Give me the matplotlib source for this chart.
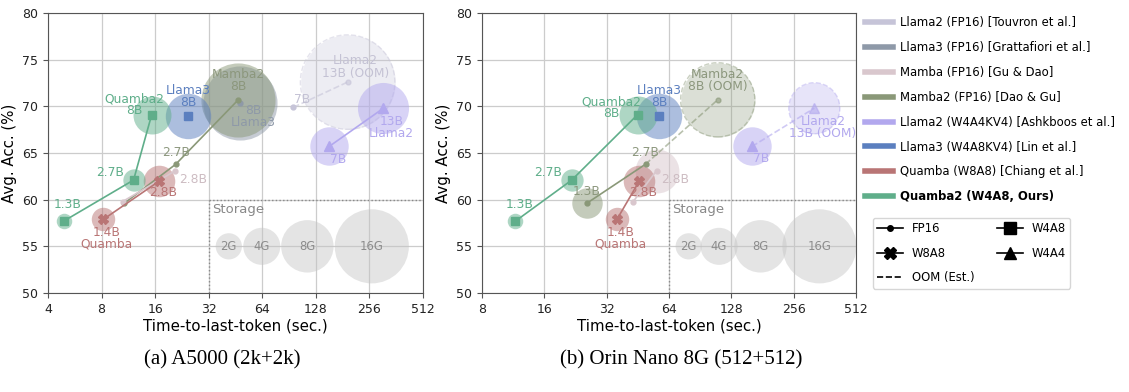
import matplotlib.pyplot as plt
from matplotlib.lines import Line2D
from matplotlib.ticker import NullLocator

# ---- accuracy (%) of each model, same on both devices ----
quamba2_acc = [57.7, 62.1, 69.1]        # 1.3B, 2.7B, 8B
quamba_acc = [57.9, 62.0]               # 1.4B, 2.8B
mamba2_acc = [59.6, 63.8, 70.7]         # 1.3B, 2.7B, 8B
mamba_acc = [59.8, 63.1]                # 1.4B, 2.8B
llama3_fp16_acc = [70.4]                # 8B
llama3_w4a8_acc = [69.0]                # 8B
llama2_fp16_acc = [69.9, 72.6]          # 7B, 13B
llama2_w4a4_acc = [65.7, 69.8]          # 7B, 13B

# ---- memory footprint (GB) -> bubble size, None = no bubble drawn ----
quamba2_gb = [0.7, 1.45, 4.2]
quamba_gb = [1.6, 2.9]
llama3_w4a8_gb = [6.0]
llama2_w4a4_gb = [4.3, 7.6]
a_mamba2_gb = [None, None, 16.0]
a_mamba_gb = [None, None]
a_llama3_fp16_gb = [16.0]
a_llama2_fp16_gb = [None, 26.0]
b_mamba2_gb = [2.7, None, 16.0]
b_mamba_gb = [None, 5.6]

# ---- time-to-last-token (sec.), (a) A5000 2k+2k ----
a_quamba2_t = [4.9, 12.1, 15.3]
a_quamba_t = [8.2, 16.9]
a_mamba2_t = [10.7, 20.9, 46.9]
a_mamba_t = [10.5, 20.8]
a_llama3_fp16_t = [48.0]
a_llama3_w4a8_t = [24.5]
a_llama2_fp16_t = [95.8, 193.0]
a_llama2_w4a4_t = [152.0, 307.0]

# ---- time-to-last-token (sec.), (b) Orin Nano 8G 512+512 ----
b_quamba2_t = [11.6, 21.7, 45.1]
b_quamba_t = [35.9, 46.0]
b_mamba2_t = [25.6, 49.3, 110.0]
b_mamba_t = [43.0, 55.7]
b_llama3_w4a8_t = [57.2]
b_llama2_w4a4_t = [161.0, 322.0]

# ---- storage reference bubbles ----
storage_gb = [2, 4, 8, 16]
storage_names = ["2G", "4G", "8G", "16G"]
a_storage_t = [41.5, 63.6, 114.7, 264.0]
b_storage_t = [79.7, 111.7, 177.0, 341.0]
storage_acc = 55

xticks_a = [4, 8, 16, 32, 64, 128, 256, 512]
xticks_b = [8, 16, 32, 64, 128, 256, 512]

# colours
c_llama2_fp16 = "#c6c4d8"
c_llama3_fp16 = "#8e99a8"
c_mamba_fp16 = "#d9c7cd"
c_mamba2_fp16 = "#8a9878"
c_llama2_w4a4 = "#b2a8ee"
c_llama3_w4a8 = "#5b7fbf"
c_quamba = "#b97575"
c_quamba2 = "#5fae8a"

S_PER_GB = 178
LABEL_FS = 8.8


def draw_series(ax, t, acc, gb, color, marker, ms, oom_last=False):
	# bubbles (memory footprint)
	for i, (x, y, g) in enumerate(zip(t, acc, gb)):
		if g is None:
			continue
		if oom_last and i == len(t) - 1:
			ax.scatter(x, y, s=g * S_PER_GB, color=color, alpha=0.3, lw=0, zorder=2)
			ax.scatter(x, y, s=g * S_PER_GB, facecolor="none", edgecolor=color,
					   alpha=0.45, lw=1.0, ls="--", zorder=2)
		else:
			ax.scatter(x, y, s=g * S_PER_GB, color=color, alpha=0.5, lw=0, zorder=2)
	# lines + markers
	if oom_last:
		ax.plot(t[:-1], acc[:-1], color=color, lw=1.2, marker=marker, ms=ms, zorder=4)
		ax.plot(t[-2:], acc[-2:], color=color, lw=1.2, ls="--", alpha=0.6, zorder=4)
		ax.plot(t[-1:], acc[-1:], color=color, ls="none", marker=marker, ms=ms, alpha=0.6, zorder=4)
	else:
		ax.plot(t, acc, color=color, lw=1.2, marker=marker, ms=ms, zorder=4)


def label(ax, x, y, text, dx, dy, color, ha="center"):
	ax.annotate(text, (x, y), xytext=(dx, dy), textcoords="offset pixels",
				ha=ha, va="center", color=color, fontsize=LABEL_FS,
				linespacing=0.92, zorder=6)


def setup_axes(ax, ticks, storage_t, storage_left):
	ax.set_xscale("log", base=2)
	ax.set_xlim(ticks[0], ticks[-1])
	ax.set_ylim(50, 80)
	ax.set_xticks(ticks)
	ax.set_xticklabels([str(v) for v in ticks])
	ax.xaxis.set_minor_locator(NullLocator())
	ax.set_yticks([50, 55, 60, 65, 70, 75, 80])
	ax.grid(True, color="#cccccc", lw=0.9, zorder=0)
	ax.set_axisbelow(True)
	ax.tick_params(labelsize=9, length=3.5, color="#555555", labelcolor="#222222")
	for sp in ax.spines.values():
		sp.set_color("#555555")
	ax.set_xlabel("Time-to-last-token (sec.)", fontsize=10.8, labelpad=2)
	ax.set_ylabel("Avg. Acc. (%)", fontsize=10.8, labelpad=4)

	# storage legend area
	ax.plot([storage_left, storage_left], [50, 60], color="#888888", lw=1.0, ls=":", zorder=1)
	ax.plot([storage_left, ticks[-1]], [60, 60], color="#888888", lw=1.0, ls=":", zorder=1)
	ax.annotate("Storage", (storage_left, 60), xytext=(3.5, -9.5), textcoords="offset pixels",
				ha="left", va="center", color="#888888", fontsize=9.5)
	ax.scatter(storage_t, [storage_acc] * len(storage_t),
			   s=[g * S_PER_GB for g in storage_gb], color="#c4c4c4", alpha=0.45, lw=0, zorder=2)
	for x, name in zip(storage_t, storage_names):
		ax.text(x, storage_acc, name, ha="center", va="center", color="#8c8c8c", fontsize=8.4, zorder=3)


fig = plt.figure(figsize=(11.29, 3.92), dpi=100)
ax_a = fig.add_axes([48 / 1129, 1 - 293 / 392, 375 / 1129, 280 / 392])
ax_b = fig.add_axes([482 / 1129, 1 - 293 / 392, 374 / 1129, 280 / 392])

# --------------------------
# (a) A5000
# --------------------------
setup_axes(ax_a, xticks_a, a_storage_t, 32)
draw_series(ax_a, a_llama2_fp16_t, llama2_fp16_acc, a_llama2_fp16_gb, c_llama2_fp16, "o", 3.5, oom_last=True)
draw_series(ax_a, a_llama3_fp16_t, llama3_fp16_acc, a_llama3_fp16_gb, c_llama3_fp16, "o", 3.5)
draw_series(ax_a, a_mamba2_t, mamba2_acc, a_mamba2_gb, c_mamba2_fp16, "o", 3.5)
draw_series(ax_a, a_mamba_t, mamba_acc, a_mamba_gb, c_mamba_fp16, "o", 3.5)
draw_series(ax_a, a_llama2_w4a4_t, llama2_w4a4_acc, llama2_w4a4_gb, c_llama2_w4a4, "^", 6.5)
draw_series(ax_a, a_llama3_w4a8_t, llama3_w4a8_acc, llama3_w4a8_gb, c_llama3_w4a8, "s", 5.5)
draw_series(ax_a, a_quamba_t, quamba_acc, quamba_gb, c_quamba, "X", 7)
draw_series(ax_a, a_quamba2_t, quamba2_acc, quamba2_gb, c_quamba2, "s", 5.5)

label(ax_a, a_quamba2_t[0], quamba2_acc[0], "1.3B", 4, 17, c_quamba2)
label(ax_a, a_quamba2_t[1], quamba2_acc[1], "2.7B", -23, 8, c_quamba2)
label(ax_a, a_quamba2_t[2], quamba2_acc[2], "Quamba2\n8B", -17, 10, c_quamba2)
label(ax_a, a_llama3_w4a8_t[0], llama3_w4a8_acc[0], "Llama3\n8B", 0, 19, c_llama3_w4a8)
label(ax_a, a_mamba2_t[1], mamba2_acc[1], "2.7B", 0, 12, "#8c977d")
label(ax_a, a_mamba2_t[2], mamba2_acc[2], "Mamba2\n8B", 0, 19, "#8c977d")
label(ax_a, a_llama3_fp16_t[0], llama3_fp16_acc[0], "8B\nLlama3", 13, -14, c_llama3_fp16)
label(ax_a, a_mamba_t[1], mamba_acc[1], "2.8B", 3.5, -9, "#cdbcc2", ha="left")
label(ax_a, a_quamba_t[0], quamba_acc[0], "1.4B\nQuamba", 3, -19, c_quamba)
label(ax_a, a_quamba_t[1], quamba_acc[1], "2.8B", 4, -12, c_quamba)
label(ax_a, a_llama2_fp16_t[0], llama2_fp16_acc[0], "7B", 9, 8, "#c4c2d4")
label(ax_a, a_llama2_fp16_t[1], llama2_fp16_acc[1], "Llama2\n13B (OOM)", 8, 15, "#c4c2d4")
label(ax_a, a_llama2_w4a4_t[0], llama2_w4a4_acc[0], "7B", 9, -13.5, c_llama2_w4a4)
label(ax_a, a_llama2_w4a4_t[1], llama2_w4a4_acc[1], "13B\nLlama2", 8, -19, c_llama2_w4a4)

# --------------------------
# (b) Orin Nano 8G
# --------------------------
setup_axes(ax_b, xticks_b, b_storage_t, 64)
draw_series(ax_b, b_mamba2_t, mamba2_acc, b_mamba2_gb, c_mamba2_fp16, "o", 3.5, oom_last=True)
draw_series(ax_b, b_mamba_t, mamba_acc, b_mamba_gb, c_mamba_fp16, "o", 3.5)
draw_series(ax_b, b_llama2_w4a4_t, llama2_w4a4_acc, llama2_w4a4_gb, c_llama2_w4a4, "^", 6.5, oom_last=True)
draw_series(ax_b, b_llama3_w4a8_t, llama3_w4a8_acc, llama3_w4a8_gb, c_llama3_w4a8, "s", 5.5)
draw_series(ax_b, b_quamba_t, quamba_acc, quamba_gb, c_quamba, "X", 7)
draw_series(ax_b, b_quamba2_t, quamba2_acc, quamba2_gb, c_quamba2, "s", 5.5)

label(ax_b, b_quamba2_t[0], quamba2_acc[0], "1.3B", 4, 17, c_quamba2)
label(ax_b, b_quamba2_t[1], quamba2_acc[1], "2.7B", -24, 8, c_quamba2)
label(ax_b, b_quamba2_t[2], quamba2_acc[2], "Quamba2\n8B", -26, 7, c_quamba2)
label(ax_b, b_llama3_w4a8_t[0], llama3_w4a8_acc[0], "Llama3\n8B", 0, 19, c_llama3_w4a8)
label(ax_b, b_mamba2_t[0], mamba2_acc[0], "1.3B", 0, 12, "#8c977d")
label(ax_b, b_mamba2_t[1], mamba2_acc[1], "2.7B", 0, 12, "#8c977d")
label(ax_b, b_mamba2_t[2], mamba2_acc[2], "Mamba2\n8B (OOM)", 0, 19, "#8c977d")
label(ax_b, b_mamba_t[1], mamba_acc[1], "2.8B", 4.3, -9, "#cdbcc2", ha="left")
label(ax_b, b_quamba_t[0], quamba_acc[0], "1.4B\nQuamba", 3.7, -19, c_quamba)
label(ax_b, b_quamba_t[1], quamba_acc[1], "2.8B", 4, -12, c_quamba)
label(ax_b, b_llama2_w4a4_t[0], llama2_w4a4_acc[0], "7B", 9, -12.5, c_llama2_w4a4)
label(ax_b, b_llama2_w4a4_t[1], llama2_w4a4_acc[1], "Llama2\n13B (OOM)", 8.5, -19, c_llama2_w4a4)

# --------------------------
# legends
# --------------------------
model_colors = [c_llama2_fp16, c_llama3_fp16, c_mamba_fp16, c_mamba2_fp16,
				c_llama2_w4a4, c_llama3_w4a8, c_quamba, c_quamba2]
model_names = ["Llama2 (FP16) [Touvron et al.]", "Llama3 (FP16) [Grattafiori et al.]",
			   "Mamba (FP16) [Gu & Dao]", "Mamba2 (FP16) [Dao & Gu]",
			   "Llama2 (W4A4KV4) [Ashkboos et al.]", "Llama3 (W4A8KV4) [Lin et al.]",
			   "Quamba (W8A8) [Chiang et al.]", "Quamba2 (W4A8, Ours)"]
handles = [Line2D([], [], color=c, lw=4) for c in model_colors]
leg1 = fig.legend(handles, model_names, loc="upper left", bbox_to_anchor=(865 / 1129, 1 - 16 / 392),
				  frameon=False, fontsize=8.4, handlelength=2.4, handletextpad=0.6,
				  labelspacing=1.02, borderpad=0, borderaxespad=0)
leg1.get_texts()[-1].set_fontweight("bold")

marker_handles = [
	Line2D([], [], color="black", lw=1.2, marker="o", ms=4),
	Line2D([], [], color="black", lw=1.2, marker="X", ms=9),
	Line2D([], [], color="black", lw=1.2, ls="--"),
	Line2D([], [], color="black", lw=1.2, marker="s", ms=8),
	Line2D([], [], color="black", lw=1.2, marker="^", ms=8),
]
marker_names = ["FP16", "W8A8", "OOM (Est.)", "W4A8", "W4A4"]
fig.legend(marker_handles, marker_names, loc="upper left", bbox_to_anchor=(873 / 1129, 1 - 218 / 392),
		   ncol=2, fontsize=8.4, handlelength=2.2, handletextpad=0.8, columnspacing=1.9,
		   labelspacing=1.0, borderpad=0.35, borderaxespad=0, edgecolor="#cccccc")

# captions
fig.text(222 / 1129, 1 - 360 / 392, "(a) A5000 (2k+2k)", ha="center", va="center",
		 fontsize=15, family="Liberation Serif")
fig.text(681 / 1129, 1 - 360 / 392, "(b) Orin Nano 8G (512+512)", ha="center", va="center",
		 fontsize=15, family="Liberation Serif")

fig.savefig("out.png", dpi=100)
